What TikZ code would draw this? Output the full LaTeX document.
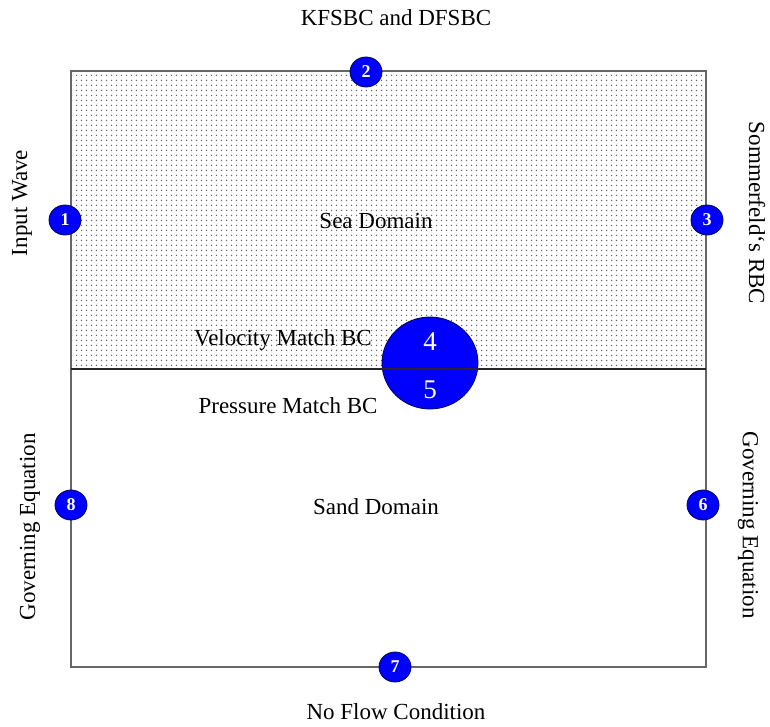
\documentclass[tikz,border=0pt]{standalone}
\usepackage{fontspec}
\setmainfont{Liberation Serif}
\usetikzlibrary{patterns,shapes.geometric}

% sparse grey dots for the water region
\pgfdeclarepatternformonly{seadots}{\pgfqpoint{-1pt}{-1pt}}{\pgfqpoint{6pt}{6pt}}{\pgfqpoint{5pt}{5pt}}{
  \pgfpathcircle{\pgfqpoint{1.5pt}{1.5pt}}{0.75pt}
  \pgfusepath{fill}
}

\begin{document}
\begin{tikzpicture}[x=1pt, y=-1pt,
        bcnode/.style={ellipse, draw=blue!35!black, fill=blue, thick, minimum width=32pt, minimum height=30pt, inner sep=0pt, text=white, font=\fontsize{18}{18}\selectfont\bfseries},
        label/.style={font=\fontsize{23}{27}\selectfont},
        ]
            \useasboundingbox (0,0) rectangle (770,727);

            \coordinate (nw) at (71,71);
            \coordinate (ne) at (706,71);
            \coordinate (mw) at (71,369);
            \coordinate (me) at (706,369);
            \coordinate (sw) at (71,667);
            \coordinate (se) at (706,667);

            % sea domain
            \fill[white] (nw) rectangle (me);
            \fill[pattern=seadots, pattern color=black!60] (nw) rectangle (me);
            \draw[gray!80!black, line width=1.5pt] (nw) rectangle (se);
            \draw[black!85, line width=1.8pt] (mw) -- (me);

            \node[label] (sea)  at (376,221) {Sea Domain};
            \node[label] (sand) at (376,507) {Sand Domain};
            \node[label] (vel)  at (283,340) {Velocity Match BC};
            \node[label] (pres) at (288,406) {Pressure Match BC};
            \node[label] (top)  at (396,18)  {KFSBC and DFSBC};
            \node[label] (bot)  at (396,712) {No Flow Condition};
            \node[label, rotate=90]  (inw)  at (22,203)  {Input Wave};
            \node[label, rotate=-90] (som)  at (757,213) {Sommerfeld`s RBC};
            \node[label, rotate=90]  (gel)  at (30,527)  {Governing Equation};
            \node[label, rotate=-90] (ger)  at (748,525) {Governing Equation};

            % interface circle
            \node[ellipse, draw=blue!35!black, fill=blue, thick, minimum width=96pt, minimum height=92pt, inner sep=0pt] (int) at (430,363) {};
            \draw[black!85, line width=1.5pt] (int.west |- mw) -- (int.east |- mw);
            \node[text=white, font=\fontsize{27}{27}\selectfont] (n4) at (430,342) {4};
            \node[text=white, font=\fontsize{27}{27}\selectfont] (n5) at (430,390) {5};

            \node[bcnode] (b1) at (65,220)  {1};
            \node[bcnode] (b2) at (366,72)  {2};
            \node[bcnode] (b3) at (707,220) {3};
            \node[bcnode] (b6) at (703,505) {6};
            \node[bcnode] (b7) at (395,667) {7};
            \node[bcnode] (b8) at (71,505)  {8};

            \end{tikzpicture}
\end{document}
